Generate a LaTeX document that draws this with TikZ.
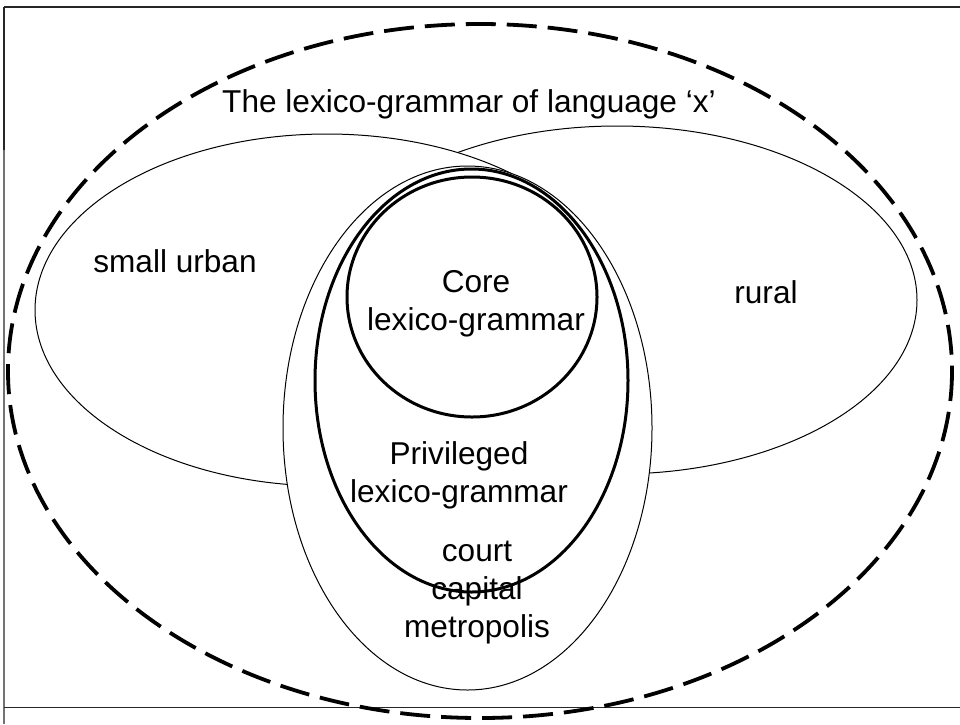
\documentclass[tikz,border=0pt]{standalone}
\usepackage{fontspec}
\setmainfont{Liberation Sans}
\tikzset{
  thinring/.style={draw=black, line width=1pt, fill=white},
  thickring/.style={draw=black, line width=3pt},
  outerring/.style={draw=black, line width=3.8pt, dash pattern=on 30pt off 11pt},
  label/.style={font=\fontsize{31.6}{37.9}\selectfont, align=center, inner sep=0pt, anchor=base},
  frameline/.style={draw=black!85, line width=1.5pt},
}
\begin{document}
\begin{tikzpicture}[x=1pt, y=-1pt]
  \useasboundingbox (0,0) rectangle (960,724);
  % frame
  \coordinate (ftl) at (4,7);
  \coordinate (ftr) at (960,7);
  \coordinate (fmid) at (4,150);
  \coordinate (fbl) at (4,724);
  \coordinate (fbot) at (4,707);
  \coordinate (fbr) at (960,707);
  \draw[frameline] (ftl) -- (ftr);
  \draw[frameline] (ftl) -- (fmid);
  \draw[draw=black!55, line width=1.2pt] (fmid) -- (fbl);
  \draw[draw=black!85, line width=1pt] (fbot) -- (fbr);

  % outer dashed boundary
  \draw[outerring] (480,371) ellipse [x radius=472, y radius=347];
  % regional varieties, each painted over the previous one
  \draw[thinring] (617,300) ellipse [x radius=300, y radius=174];
  \draw[thinring] (327,310) ellipse [x radius=292, y radius=176];
  % court / capital / metropolis
  \draw[thinring] (467.5,428) ellipse [x radius=184.5, y radius=262];
  % privileged and core
  \draw[thickring] (471.5,380.5) ellipse [x radius=156.5, y radius=211.5];
  \draw[thickring] (472,297) ellipse [x radius=125, y radius=120];

  % labels (anchored on the baseline of the last line)
  \node[label] (title) at (469,112) {The lexico-grammar of language ‘x’};
  \node[label] (urban) at (175,272) {small urban};
  \node[label] (rural) at (766,303) {rural};
  \node[label] (core) at (476,330) {Core\\lexico-grammar};
  \node[label] (priv) at (459,502) {Privileged\\lexico-grammar};
  \node[label] (court) at (477,637) {court\\capital\\metropolis};
\end{tikzpicture}
\end{document}
